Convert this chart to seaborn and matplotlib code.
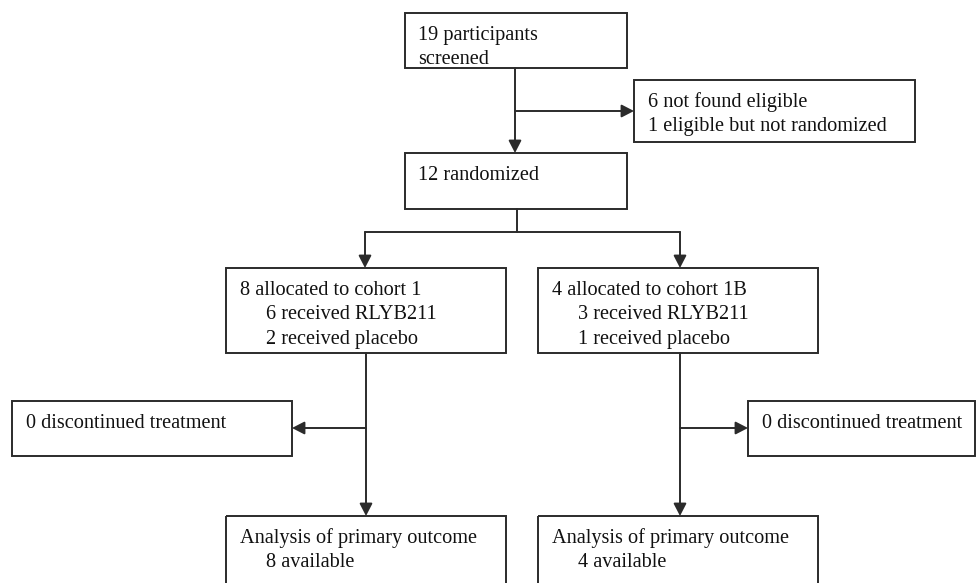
import matplotlib.pyplot as plt
import seaborn as sns
from matplotlib.patches import Rectangle

# text of each box, one entry per line
screened_lines = ["19 participants", "screened"]
excluded_lines = ["6 not found eligible", "1 eligible but not randomized"]
randomized_lines = ["12 randomized"]
cohort1_lines = ["8 allocated to cohort 1", "6 received RLYB211", "2 received placebo"]
cohort1b_lines = ["4 allocated to cohort 1B", "3 received RLYB211", "1 received placebo"]
cohort_indent = [False, True, True]
discont_left_lines = ["0 discontinued treatment"]
discont_right_lines = ["0 discontinued treatment"]
analysis1_lines = ["Analysis of primary outcome", "8 available"]
analysis1b_lines = ["Analysis of primary outcome", "4 available"]
analysis_indent = [False, True]

sns.set_style("white")
plt.rcParams["font.family"] = ["Liberation Serif", "DejaVu Serif"]

fig = plt.figure(figsize=(9.76, 5.83), dpi=100)
ax = fig.add_axes([0, 0, 1, 1])
ax.set_xlim(0, 976)
ax.set_ylim(583, 0)
ax.axis("off")

LC = "#2b2b2b"
FS = 14.6


def box(x0, y0, x1, y1, lines, indent=None):
    ax.add_patch(Rectangle((x0, y0), x1 - x0, y1 - y0, fill=False,
                           edgecolor=LC, lw=1.4))
    if indent is None:
        indent = [False] * len(lines)
    for i, (t, ind) in enumerate(zip(lines, indent)):
        ax.text(x0 + 13.5 + (27 if ind else 0), y0 + 27 + i * 24.3, t,
                fontsize=FS, color="#111111", va="baseline", ha="left")


def connector(xs, ys):
    sns.lineplot(x=xs, y=ys, sort=False, estimator=None, color=LC,
                 lw=1.4, ax=ax)


def arrow(x0, y0, x1, y1):
    ax.annotate("", xy=(x1, y1), xytext=(x0, y0),
                arrowprops=dict(arrowstyle="-|>,head_length=0.62,head_width=0.32",
                                mutation_scale=12, color=LC, lw=1.4,
                                shrinkA=0, shrinkB=0))


box(405, 13, 627, 68, screened_lines)
box(634, 80, 915, 142, excluded_lines)
box(405, 153, 627, 209, randomized_lines)
box(226, 268, 506, 353, cohort1_lines, cohort_indent)
box(538, 268, 818, 353, cohort1b_lines, cohort_indent)
box(12, 401, 292, 456, discont_left_lines)
box(748, 401, 975, 456, discont_right_lines)
box(226, 516, 506, 600, analysis1_lines, analysis_indent)
box(538, 516, 818, 600, analysis1b_lines, analysis_indent)

# screening -> randomized, with exclusion branch
arrow(515, 68, 515, 153)
arrow(515, 111, 634, 111)

# randomized -> two cohorts
connector([517, 517], [209, 232])
connector([365, 680], [232, 232])
arrow(365, 232, 365, 268)
arrow(680, 232, 680, 268)

# cohorts -> analysis, with discontinuation branches
arrow(366, 353, 366, 516)
arrow(366, 428, 292, 428)
arrow(680, 353, 680, 516)
arrow(680, 428, 748, 428)

fig.savefig("out.png", dpi=100)
